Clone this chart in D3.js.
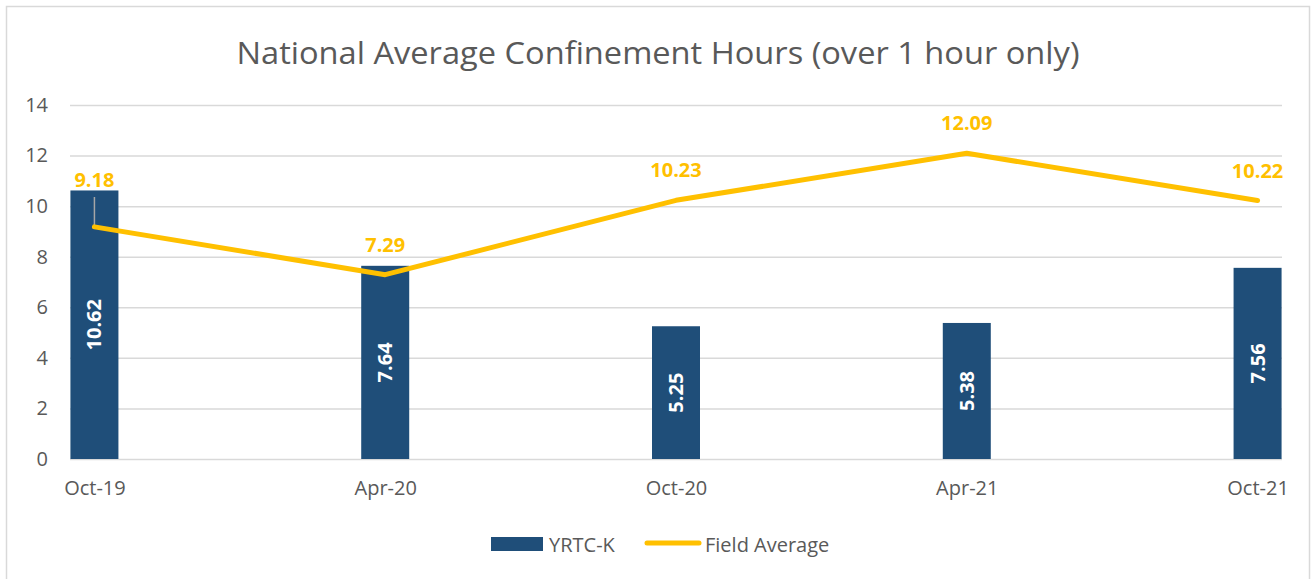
<!DOCTYPE html>
<html>
<head>
<meta charset="utf-8">
<script src="https://cdn.jsdelivr.net/npm/d3@7"></script>
<style>
  body { margin: 0; background: #fff; }
  text { font-family: "Open Sans", "Liberation Sans", sans-serif; }
</style>
</head>
<body>
<svg width="1311" height="579"></svg>
<script>
// chart values
var periods = ["Oct-19", "Apr-20", "Oct-20", "Apr-21", "Oct-21"];
var yrtcValues = [10.62, 7.64, 5.25, 5.38, 7.56];
var fieldAverage = [9.18, 7.29, 10.23, 12.09, 10.22];
var yTicks = [0, 2, 4, 6, 8, 10, 12, 14];
var seriesNames = ["YRTC-K", "Field Average"];

var svg = d3.select("svg"),
    barColor = "#1f4e79",
    lineColor = "#ffc000",
    textColor = "#595959";

// outer chart border
svg.append("rect")
    .attr("x", 6.5).attr("y", 6.5)
    .attr("width", 1303).attr("height", 590)
    .attr("fill", "none").attr("stroke", "#d9d9d9").attr("stroke-width", 1.5);

svg.append("text")
    .attr("x", 658).attr("y", 64)
    .attr("text-anchor", "middle")
    .attr("fill", textColor)
    .style("font-size", "31px")
    .attr("textLength", 843).attr("lengthAdjust", "spacingAndGlyphs")
    .text("National Average Confinement Hours (over 1 hour only)");

var x = d3.scalePoint().domain(periods).range([70, 1282]).padding(0.084);
var y = d3.scaleLinear().domain([0, 14]).range([459, 105]);
var barW = 48;

// y axis with gridlines
var yAxis = svg.append("g")
    .attr("transform", "translate(70,0)")
    .call(d3.axisLeft(y).tickValues(yTicks).tickSize(-1212).tickPadding(22));
yAxis.select(".domain").remove();
yAxis.selectAll(".tick line").attr("stroke", "#d9d9d9").attr("stroke-width", 1.5);
yAxis.selectAll(".tick text")
    .attr("fill", textColor)
    .style("font-size", "20px");

// x axis labels
var xAxis = svg.append("g")
    .attr("transform", "translate(0,459)")
    .call(d3.axisBottom(x).tickSize(0).tickPadding(22));
xAxis.select(".domain").remove();
xAxis.selectAll(".tick text")
    .attr("fill", textColor)
    .style("font-size", "20px");

// bars
svg.append("g").selectAll("rect")
    .data(yrtcValues)
    .enter().append("rect")
    .attr("x", function(d, i) { return x(periods[i]) - barW / 2; })
    .attr("y", function(d) { return y(d); })
    .attr("width", barW)
    .attr("height", function(d) { return y(0) - y(d); })
    .attr("fill", barColor);

// bar labels, rotated, in the middle of the bar
svg.append("g").selectAll("text")
    .data(yrtcValues)
    .enter().append("text")
    .attr("transform", function(d, i) {
        return "translate(" + x(periods[i]) + "," + (y(d) + y(0)) / 2 + ") rotate(-90)";
    })
    .attr("text-anchor", "middle")
    .attr("dy", "0.35em")
    .attr("fill", "#fff")
    .style("font-size", "20px")
    .style("font-weight", "bold")
    .text(function(d) { return d.toFixed(2); });

// field average line
var line = d3.line()
    .x(function(d, i) { return x(periods[i]); })
    .y(function(d) { return y(d); });

// leader line for the first label (moved above the bar)
svg.append("line")
    .attr("x1", x(periods[0])).attr("x2", x(periods[0]))
    .attr("y1", 197).attr("y2", y(fieldAverage[0]))
    .attr("stroke", "#a6a6a6").attr("stroke-width", 1.5);

svg.append("path")
    .datum(fieldAverage)
    .attr("d", line)
    .attr("fill", "none")
    .attr("stroke", lineColor)
    .attr("stroke-width", 5)
    .attr("stroke-linecap", "round")
    .attr("stroke-linejoin", "round");

svg.append("g").selectAll("text")
    .data(fieldAverage)
    .enter().append("text")
    .attr("x", function(d, i) { return x(periods[i]); })
    .attr("y", function(d, i) { return i == 0 ? 180 : y(d) - 30; })
    .attr("text-anchor", "middle")
    .attr("dy", "0.35em")
    .attr("fill", lineColor)
    .style("font-size", "20px")
    .style("font-weight", "bold")
    .text(function(d) { return d.toFixed(2); });

// legend
var legend = svg.append("g");
legend.append("rect")
    .attr("x", 491).attr("y", 537).attr("width", 52).attr("height", 14)
    .attr("fill", barColor);
legend.append("text")
    .attr("x", 549).attr("y", 545).attr("dy", "0.35em")
    .attr("fill", textColor).style("font-size", "20px")
    .text(seriesNames[0]);
legend.append("line")
    .attr("x1", 647).attr("x2", 699).attr("y1", 543).attr("y2", 543)
    .attr("stroke", lineColor).attr("stroke-width", 5).attr("stroke-linecap", "round");
legend.append("text")
    .attr("x", 705).attr("y", 545).attr("dy", "0.35em")
    .attr("fill", textColor).style("font-size", "20px")
    .text(seriesNames[1]);
</script>
</body>
</html>
